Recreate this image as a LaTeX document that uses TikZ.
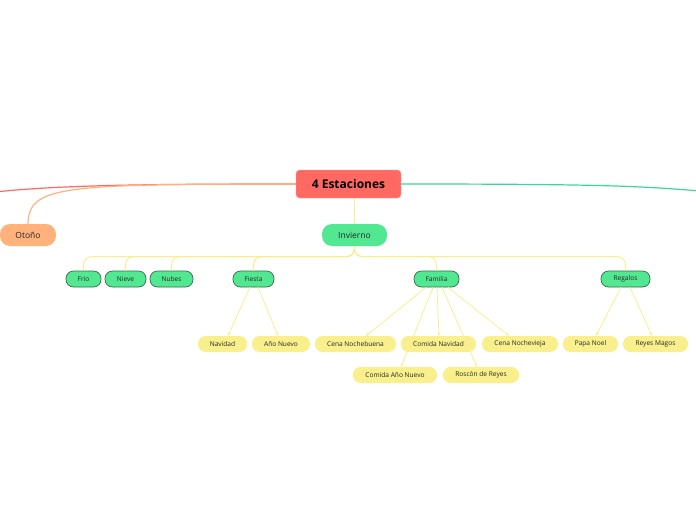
\documentclass[tikz,border=0pt]{standalone}
\usepackage{fontspec}
\setmainfont{Open Sans}
\usetikzlibrary{arrows.meta,calc}
\definecolor{cred}{HTML}{FF6961}
\definecolor{cyel}{HTML}{F9F08D}
\definecolor{cyline}{HTML}{F7EE93}
\definecolor{cgreen}{HTML}{52E891}
\definecolor{cgline}{HTML}{3DD59A}
\definecolor{corange}{HTML}{FFB27C}
\definecolor{cborder}{HTML}{3E6650}
\tikzset{
  central/.style={draw=cred!60, fill=cred, rounded corners=3.5pt, minimum height=28pt, inner sep=0pt, text=black, font=\fontsize{12}{13}\selectfont\bfseries},
  topic/.style={rounded corners=10pt, minimum height=22pt, inner sep=0pt, font=\fontsize{8.5}{10}\selectfont, text=black!85},
  sub/.style={draw=cborder, line width=0.7pt, fill=cgreen, rounded corners=7.5pt, minimum height=16pt, inner sep=0pt, font=\fontsize{6.6}{7}\selectfont, text=black!85},
  leaf/.style={fill=cyel, rounded corners=7.5pt, minimum height=16pt, inner sep=0pt, font=\fontsize{6.6}{7}\selectfont, text=black!85},
  branch/.style={draw=cyline, line width=1pt, rounded corners=8pt},
  leafedge/.style={draw=cyline, line width=0.8pt, -{Stealth[length=3.5pt,width=3pt]}},
}
\begin{document}
\begin{tikzpicture}[x=1pt,y=-1pt]
\useasboundingbox (0,0) rectangle (696,520);
\begin{scope}
\clip (0,0) rectangle (696,520);
% nodes
\node[central, minimum width=105pt] (c) at (348.5,184) {4 Estaciones};
\node[topic, fill=corange, minimum width=56pt] (oto) at (28,235) {Otoño};
\node[topic, fill=cgreen, minimum width=65pt] (inv) at (354.5,235) {Invierno};

\node[sub, minimum width=35pt] (frio) at (83.5,279) {Frio};
\node[sub, minimum width=41pt] (nieve) at (125.5,279) {Nieve};
\node[sub, minimum width=43pt] (nubes) at (171.5,279) {Nubes};
\node[sub, minimum width=41pt] (fiesta) at (253.5,279) {Fiesta};
\node[sub, minimum width=45pt] (fam) at (436.5,279) {Familia};
\node[sub, minimum width=49pt] (reg) at (625.5,279) {Regalos};

\node[leaf, minimum width=49pt] (nav) at (222.5,344) {Navidad};
\node[leaf, minimum width=58pt] (anio) at (281,344) {Año Nuevo};
\node[leaf, minimum width=81pt] (cnb) at (355.5,344) {Cena Nochebuena};
\node[leaf, minimum width=75pt] (cnav) at (438.5,344) {Comida Navidad};
\node[leaf, minimum width=76pt] (cnv) at (520,344) {Cena Nochevieja};
\node[leaf, minimum width=55pt] (papa) at (590.5,344) {Papa Noel};
\node[leaf, minimum width=65pt] (reyes) at (655.5,344) {Reyes Magos};
\node[leaf, minimum width=84pt] (can) at (395,375) {Comida Año Nuevo};
\node[leaf, minimum width=76pt] (rosc) at (481,375) {Roscón de Reyes};

\coordinate (lend) at (-5,192);
\coordinate (rend) at (700,191);

% main connectors
\draw[cred, line width=1.2pt] (c.west) .. controls (150,184) and (60,185) .. (lend);
\draw[corange, line width=1.2pt] (c.west) .. controls (60,184) and (29,186) .. (oto.north);
\draw[cgline, line width=1.2pt] (c.east) .. controls (600,184) and (640,186) .. (rend);
\draw[cyline, line width=1.2pt] ([xshift=6pt]c.south) -- (inv.north);

% Invierno branches
\foreach \n in {frio,nieve,nubes,fiesta,fam,reg}{
  \draw[branch] (inv.south) |- ($(\n.north)+(0,-14)$) -- (\n.north);
}

% leaf edges
\draw[leafedge] ([xshift=-3.5pt]fiesta.south) -- ([xshift=5.5pt]nav.north);
\draw[leafedge] ([xshift=4.5pt]fiesta.south) -- ([xshift=-3pt]anio.north);
\draw[leafedge] ([xshift=-10.5pt]fam.south) -- ([xshift=10.5pt]cnb.north);
\draw[leafedge] ([xshift=-3.5pt]fam.south) -- ([xshift=6pt]can.north);
\draw[leafedge] ([xshift=0.5pt]fam.south) -- ([xshift=0.5pt]cnav.north);
\draw[leafedge] ([xshift=5.5pt]fam.south) -- ([xshift=-4pt]rosc.north);
\draw[leafedge] ([xshift=11.5pt]fam.south) -- ([xshift=-11pt]cnv.north);
\draw[leafedge] ([xshift=-4.5pt]reg.south) -- ([xshift=5.5pt]papa.north);
\draw[leafedge] ([xshift=4.5pt]reg.south) -- ([xshift=-3.5pt]reyes.north);
\end{scope}
\end{tikzpicture}
\end{document}
